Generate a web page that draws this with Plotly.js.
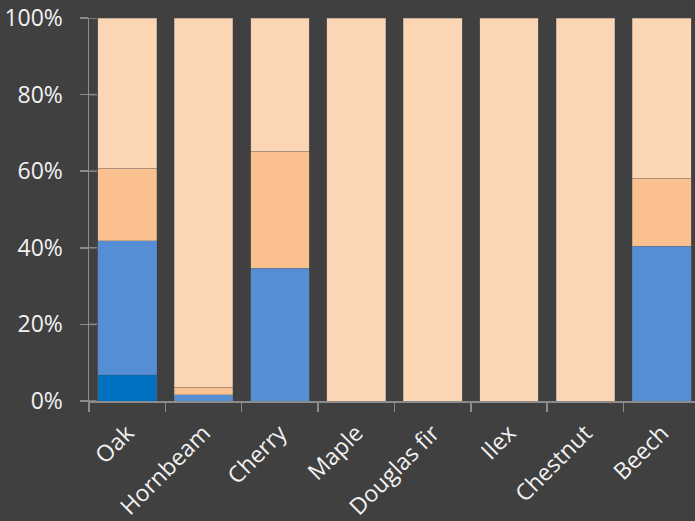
<!DOCTYPE html>
<html>
<head>
<meta charset="utf-8">
<script src="https://cdn.plot.ly/plotly-3.0.1.min.js"></script>
<style>html,body{margin:0;padding:0;background:#404040;}#chart{width:695px;height:521px;}</style>
</head>
<body>
<div id="chart"></div>
<script>
const categories = ["Oak", "Hornbeam", "Cherry", "Maple", "Douglas fir", "Ilex", "Chestnut", "Beech"];
const seriesDarkBlue = [6.9, 0, 0, 0, 0, 0, 0, 0];
const seriesBlue = [35.0, 1.6, 34.6, 0, 0, 0, 0, 40.4];
const seriesOrange = [18.9, 2.0, 30.6, 0, 0, 0, 0, 17.8];
const seriesPeach = [39.2, 96.4, 34.8, 100, 100, 100, 100, 41.8];
const yTickVals = [0, 20, 40, 60, 80, 100];
const yTickText = ["0%", "20%", "40%", "60%", "80%", "100%"];

const colors = ["#0070C0", "#558ED5", "#FAC090", "#FCD5B5"];
const allSeries = [seriesDarkBlue, seriesBlue, seriesOrange, seriesPeach];

const traces = allSeries.map((vals, i) => ({
  type: "bar",
  x: categories,
  y: vals,
  marker: {color: colors[i], line: {color: "rgba(110,110,110,0.45)", width: 0.8}},
  hoverinfo: "x+y"
}));

const axisColor = "#8c8c8c";
const shapes = yTickVals.map(v => ({
  type: "line", xref: "paper", yref: "y",
  x0: 0, x1: 0.013, y0: v, y1: v,
  line: {color: axisColor, width: 1.5}
}));

const layout = {
  width: 695, height: 521,
  paper_bgcolor: "#404040",
  plot_bgcolor: "#404040",
  margin: {l: 89, r: 0, t: 18, b: 120},
  barmode: "stack",
  barnorm: "percent",
  bargap: 0.23,
  showlegend: false,
  font: {family: "Open Sans, sans-serif", color: "#F2F2F2", size: 22},
  xaxis: {
    type: "category",
    range: [-0.5, 7.435],
    tickangle: -45,
    tickson: "boundaries",
    ticks: "outside",
    ticklen: 9,
    tickcolor: axisColor,
    tickwidth: 1.5,
    ticklabelstandoff: 8,
    showline: true,
    linecolor: axisColor,
    linewidth: 1.5,
    showgrid: false,
    zeroline: false,
    tickfont: {size: 23, color: "#F2F2F2"}
  },
  yaxis: {
    range: [0, 100],
    tickvals: yTickVals,
    ticktext: yTickText,
    ticks: "outside",
    ticklen: 8,
    tickcolor: axisColor,
    tickwidth: 1.5,
    ticklabelstandoff: 12,
    showline: true,
    linecolor: axisColor,
    linewidth: 1.5,
    showgrid: false,
    zeroline: false,
    tickfont: {size: 23, color: "#F2F2F2"}
  },
  shapes: shapes
};

Plotly.newPlot("chart", traces, layout, {displayModeBar: false, staticPlot: true});
</script>
</body>
</html>
